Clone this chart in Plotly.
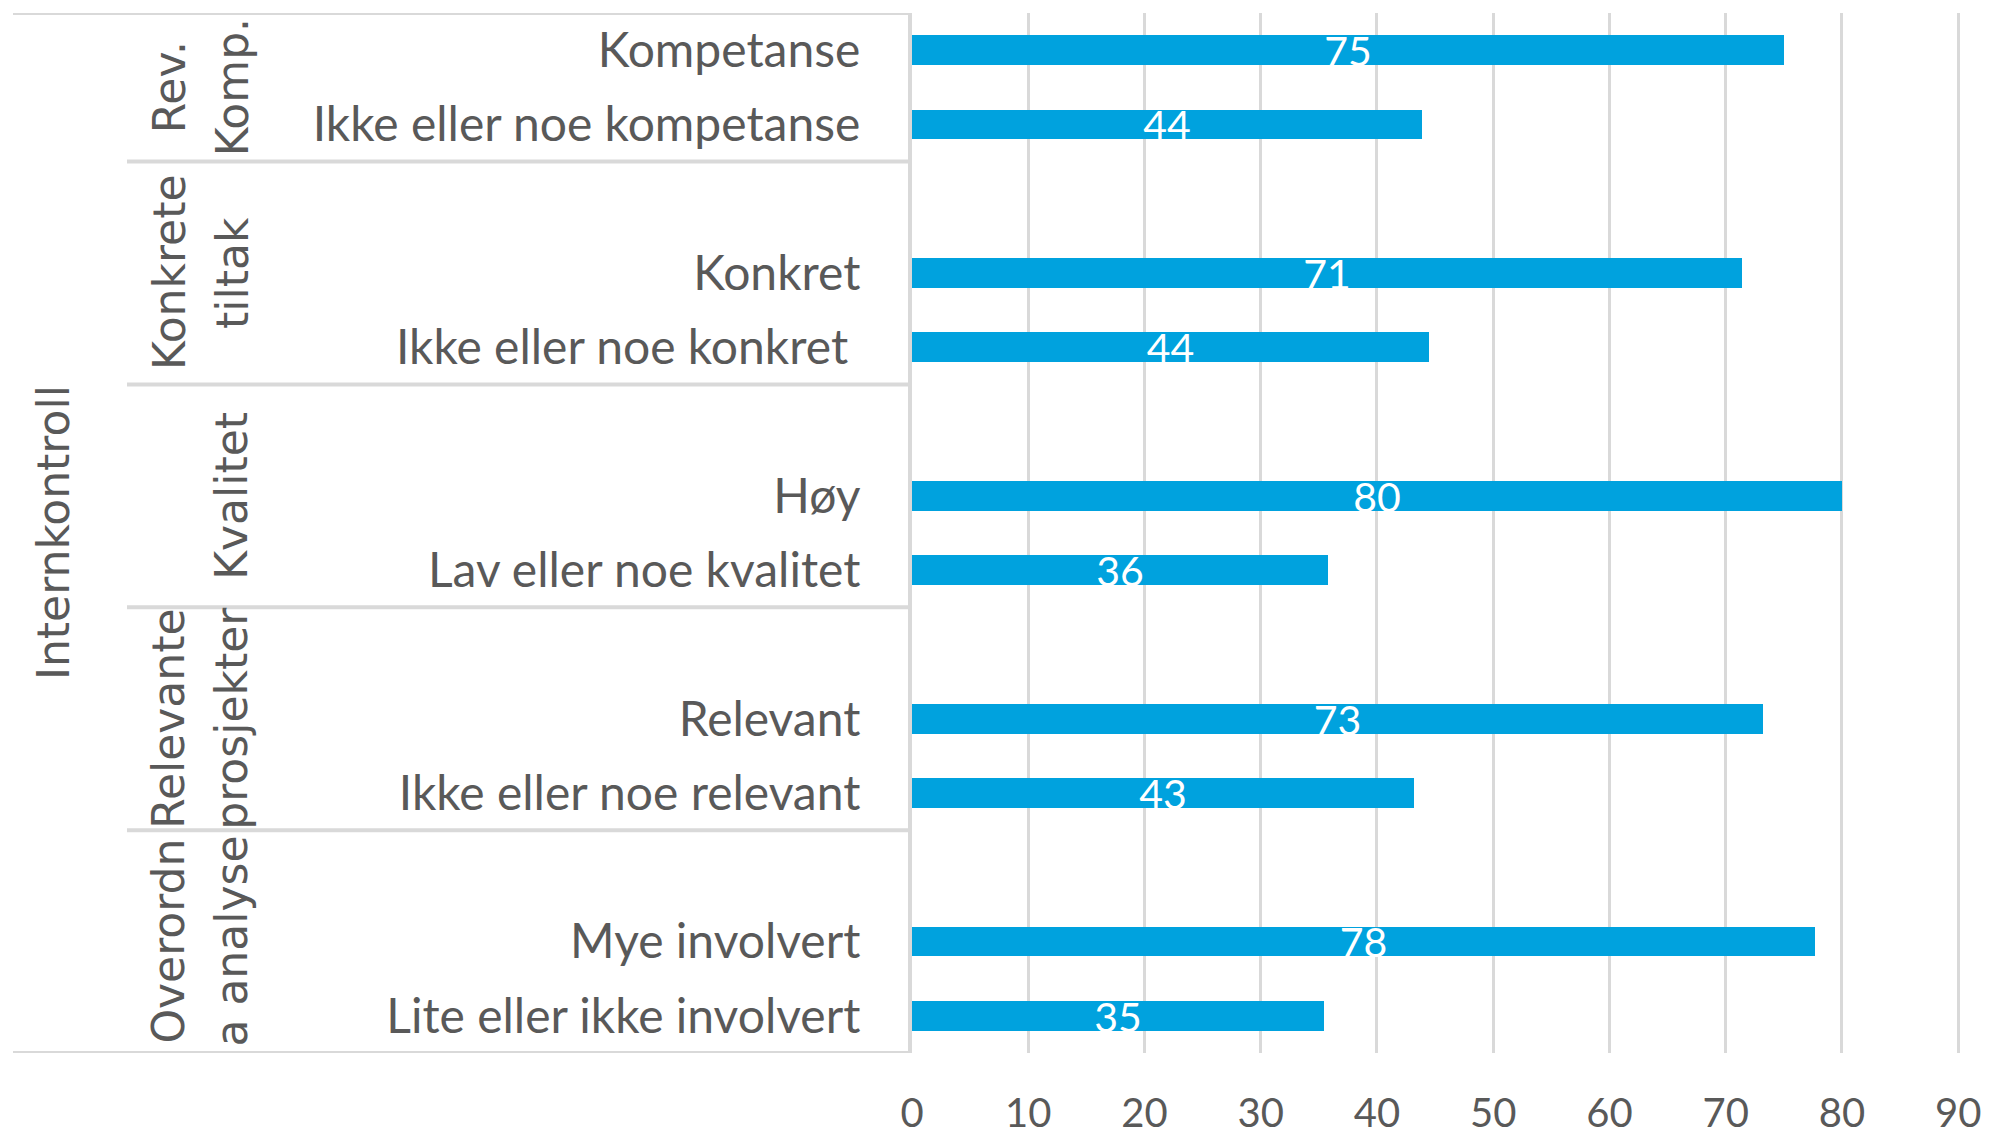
#!/usr/bin/env python3
# plot.py - Internkontroll: bar chart with two-level category labels

import plotly.graph_objects as go

# --- data -----------------------------------------------------------------
group_line1 = ["Rev.", "Konkrete", "", "Relevante", "Overordn"]
group_line2 = ["Komp.", "tiltak", "Kvalitet", "prosjekter", "a analyse"]
group_members = [
    ["Kompetanse", "Ikke eller noe kompetanse"],
    ["Konkret", "Ikke eller noe konkret\u00a0"],
    ["Høy", "Lav eller noe kvalitet"],
    ["Relevant", "Ikke eller noe relevant"],
    ["Mye involvert", "Lite eller ikke involvert"],
]
values = [75.0, 43.9, 71.4, 44.5, 80.0, 35.8, 73.2, 43.2, 77.7, 35.4]
value_labels = ["75", "44", "71", "44", "80", "36", "73", "43", "78", "35"]
outer_label = "Internkontroll"
x_ticks = [0, 10, 20, 30, 40, 50, 60, 70, 80, 90]

# --- style ----------------------------------------------------------------
BAR_COLOR = "#00A2DE"
GRID = "#D9D9D9"
TEXT = "#595959"
CAT_FONT = "Lato, 'Open Sans', sans-serif"
GROUP_FONT = "'DejaVu Sans', Verdana, sans-serif"

# the page body has an 8px margin, so the figure starts at (8, 8)
PAGE_OFF = 8
W, H = 1989 - PAGE_OFF, 1141 - PAGE_OFF
L, R, T, B = 904, 25, 5, 88
plot_w = W - L - R


def px_to_paper(page_px):
    """Horizontal page pixel position -> paper coordinate"""
    return (page_px - PAGE_OFF - L) / plot_w


# slot layout: one blank slot in front of each group except the first
categories, slots, group_spans = [], [], []
y = 0
for g, members in enumerate(group_members):
    if g > 0:
        y += 1
    start = y - (1 if g > 0 else 0) - 0.5
    for name in members:
        categories.append(name)
        slots.append(y)
        y += 1
    group_spans.append((start, y - 0.5))
n_slots = y

fig = go.Figure(go.Bar(
    x=values,
    y=slots,
    orientation="h",
    width=0.4,
    marker=dict(color=BAR_COLOR, line=dict(width=0)),
    text=value_labels,
    textposition="inside",
    insidetextanchor="middle",
    constraintext="none",
    textangle=0,
    textfont=dict(family=CAT_FONT, size=41, color="white"),
    hoverinfo="skip",
))

# horizontal separators of the category axis
shapes = []
line_style = dict(color=GRID, width=4)
for i, (top, bottom) in enumerate(group_spans):
    x0 = px_to_paper(13) if i == 0 else px_to_paper(127)
    shapes.append(dict(type="line", xref="paper", yref="y", x0=x0, x1=0,
                       y0=top, y1=top, line=line_style))
shapes.append(dict(type="line", xref="paper", yref="y", x0=px_to_paper(13), x1=0,
                   y0=group_spans[-1][1], y1=group_spans[-1][1], line=line_style))

annotations = []
for (top, bottom), l1, l2 in zip(group_spans, group_line1, group_line2):
    mid = (top + bottom) / 2
    for txt, xpx in ((l1, 169), (l2, 232)):
        if not txt:
            continue
        annotations.append(dict(
            text=txt, xref="paper", yref="y", x=px_to_paper(xpx), y=mid,
            xanchor="center", yanchor="middle", textangle=-90, showarrow=False,
            font=dict(family=GROUP_FONT, size=44, color=TEXT),
        ))
annotations.append(dict(
    text=outer_label, xref="paper", yref="paper", x=px_to_paper(53), y=0.5,
    xanchor="center", yanchor="middle", textangle=-90, showarrow=False,
    font=dict(family=GROUP_FONT, size=44, color=TEXT),
))

fig.update_layout(
    width=W, height=H, autosize=False,
    margin=dict(l=L, r=R, t=T, b=B, pad=0),
    paper_bgcolor="white", plot_bgcolor="white",
    showlegend=False,
    bargap=0,
    shapes=shapes,
    annotations=annotations,
    xaxis=dict(
        range=[0, 90.5], tickvals=x_ticks, showgrid=True, gridcolor=GRID, gridwidth=3,
        zeroline=False, showline=False, ticks="", ticklabelstandoff=33,
        automargin=False, ticklabeloverflow="allow",
        tickfont=dict(family=CAT_FONT, size=40, color=TEXT), fixedrange=True,
    ),
    yaxis=dict(
        range=[n_slots - 0.5, -0.5], tickvals=slots, ticktext=categories,
        showgrid=False, zeroline=False, showline=True, linecolor=GRID, linewidth=4,
        ticks="", ticklabelstandoff=38, automargin=False, ticklabeloverflow="allow",
        tickfont=dict(family=CAT_FONT, size=48, color=TEXT), fixedrange=True,
    ),
)

fig.write_html("out.html")
print("Created: out.html")
